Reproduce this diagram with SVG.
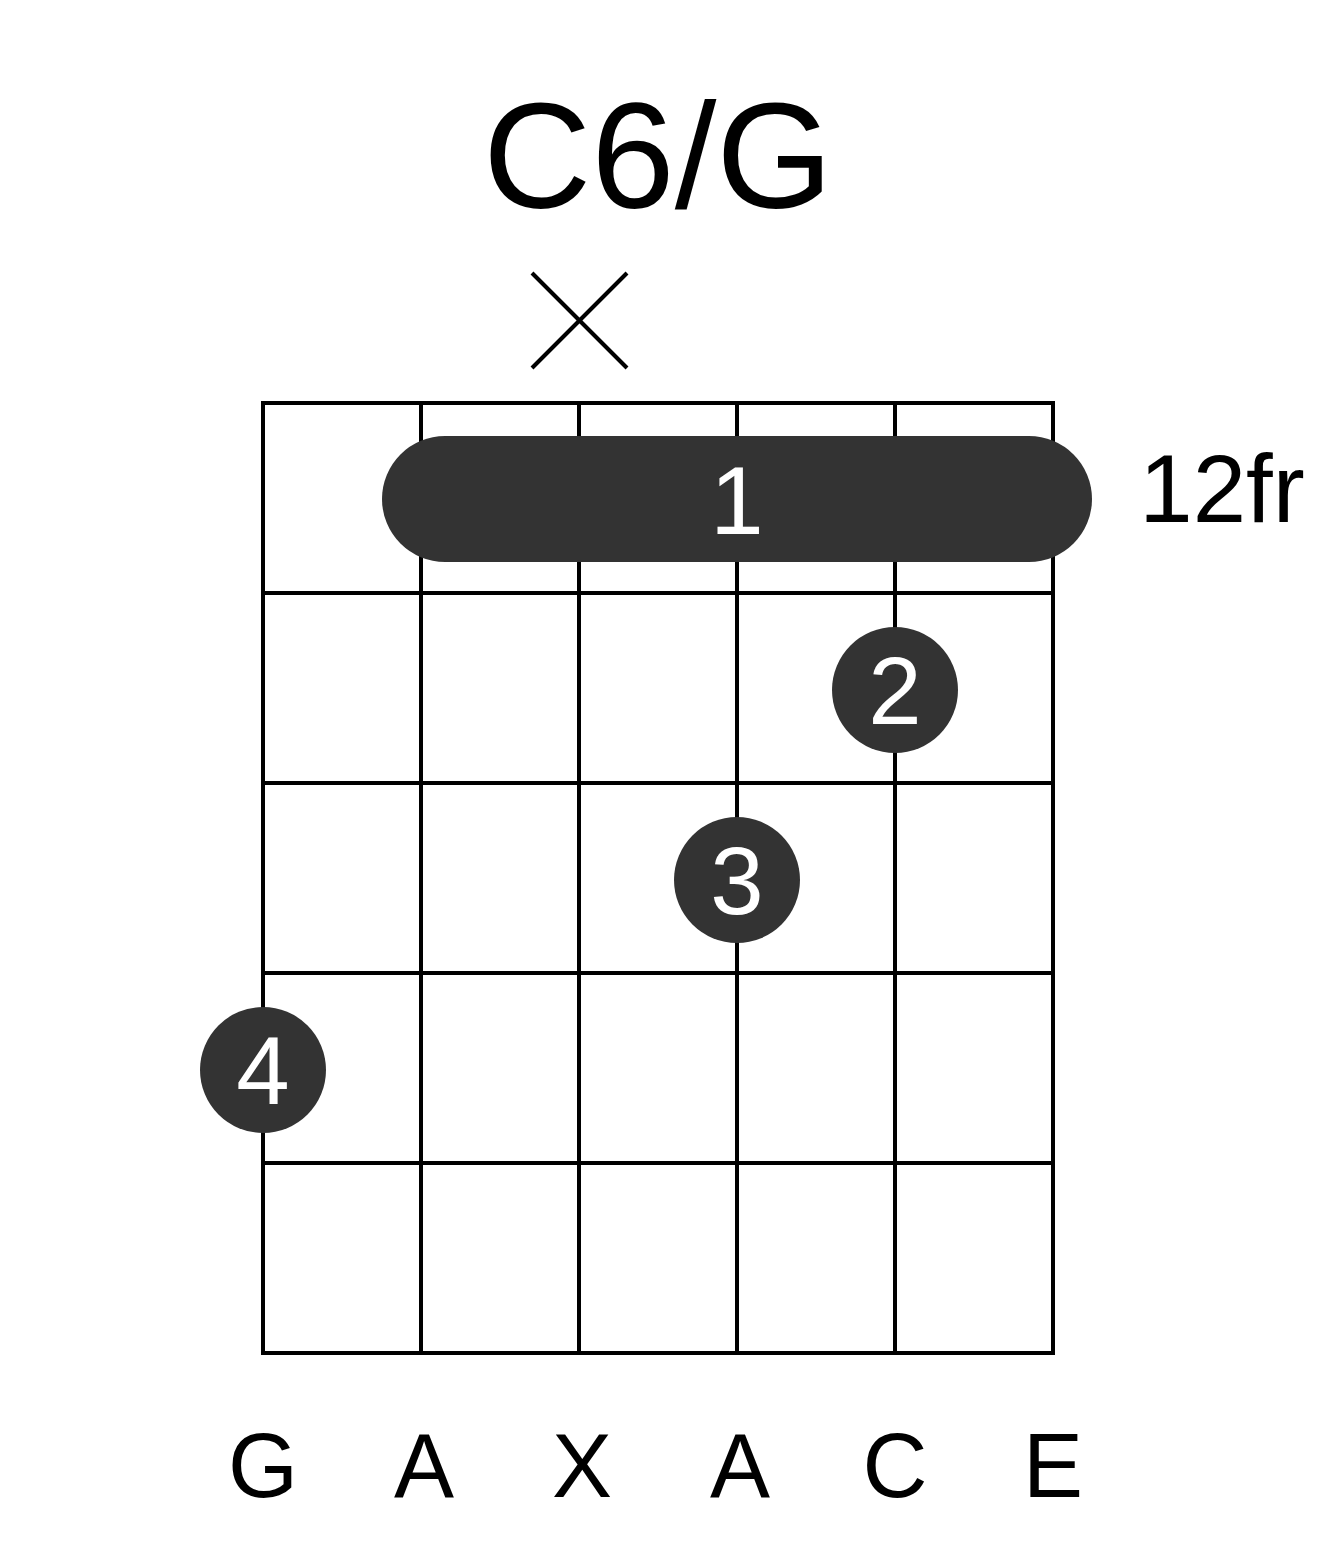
<svg xmlns="http://www.w3.org/2000/svg" width="1317" height="1551" viewBox="0 0 1317 1551">
<style>
.g{stroke:#000;stroke-width:4;fill:none}
.d{fill:#333}
.w{fill:#fff;font-family:"Liberation Sans",Arial,sans-serif;font-size:96px;text-anchor:middle}
.t{fill:#000;font-family:"Liberation Sans",Arial,sans-serif;text-anchor:middle}
</style>
<rect width="1317" height="1551" fill="#fff"/>
<text class="t" x="658" y="208" font-size="150">C6/G</text>
<g id="mute" class="g"><line x1="532" y1="273" x2="627" y2="368"/><line x1="627" y1="273" x2="532" y2="368"/></g>
<g id="grid" class="g">
<rect x="263" y="403" width="790" height="950"/>
<line x1="421" y1="403" x2="421" y2="1353"/><line x1="579" y1="403" x2="579" y2="1353"/><line x1="737" y1="403" x2="737" y2="1353"/><line x1="895" y1="403" x2="895" y2="1353"/>
<line x1="263" y1="593" x2="1053" y2="593"/><line x1="263" y1="783" x2="1053" y2="783"/><line x1="263" y1="973" x2="1053" y2="973"/><line x1="263" y1="1163" x2="1053" y2="1163"/>
</g>
<g id="barre"><rect class="d" x="382" y="436" width="710" height="126" rx="63"/><text class="w" x="737" y="534">1</text></g>
<g id="f2"><circle class="d" cx="895" cy="690" r="63"/><text class="w" x="895" y="724">2</text></g>
<g id="f3"><circle class="d" cx="737" cy="880" r="63"/><text class="w" x="737" y="914">3</text></g>
<g id="f4"><circle class="d" cx="263" cy="1070" r="63"/><text class="w" x="263" y="1104">4</text></g>
<text class="t" x="1222" y="522" font-size="96">12fr</text>
<g class="t" font-size="90">
<text x="263" y="1497">G</text><text x="424" y="1497">A</text><text x="582" y="1497">X</text><text x="740" y="1497">A</text><text x="895" y="1497">C</text><text x="1053" y="1497">E</text>
</g>
</svg>
